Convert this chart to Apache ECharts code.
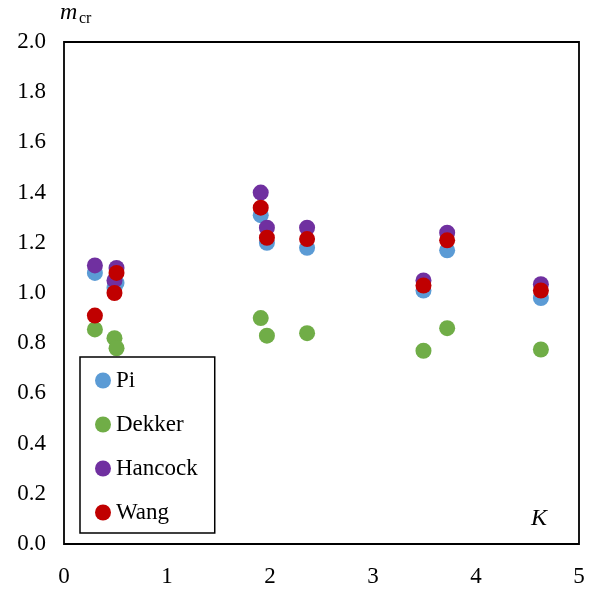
<!DOCTYPE html>
<html>
<head>
<meta charset="utf-8">
<script src="https://cdn.jsdelivr.net/npm/echarts@6/dist/echarts.min.js"></script>
<style>
html,body{margin:0;padding:0;background:#fff;}
#chart{width:596px;height:592px;}
</style>
</head>
<body>
<div id="chart"></div>
<script>
var K = [0.30, 0.49, 0.51, 1.91, 1.97, 2.36, 3.49, 3.72, 4.63];
var seriesNames = ['Pi', 'Dekker', 'Hancock', 'Wang'];
var piVals = [1.08, 1.02, 1.04, 1.31, 1.20, 1.18, 1.01, 1.17, 0.98];
var dekkerVals = [0.855, 0.82, 0.78, 0.90, 0.83, 0.84, 0.77, 0.86, 0.775];
var hancockVals = [1.11, 1.05, 1.10, 1.40, 1.26, 1.26, 1.05, 1.24, 1.035];
var wangVals = [0.91, 1.00, 1.08, 1.34, 1.22, 1.215, 1.03, 1.21, 1.01];
var colors = ['#5B9BD5', '#70AD47', '#7030A0', '#C00000'];

var FONT = '"Liberation Serif","Times New Roman",serif';
function pairs(vals){ return K.map(function(k,i){ return [k, vals[i]]; }); }
var allVals = [piVals, dekkerVals, hancockVals, wangVals];

var chart = echarts.init(document.getElementById('chart'), null, {renderer:'canvas'});
chart.setOption({
  animation: false,
  backgroundColor: '#ffffff',
  color: colors,
  grid: {left: 64, right: 17, top: 42, bottom: 48, show: true, borderColor: '#000', borderWidth: 1.8, backgroundColor: 'transparent'},
  xAxis: {
    type: 'value', min: 0, max: 5, interval: 1,
    axisLine: {show: false}, axisTick: {show: false}, splitLine: {show: false},
    axisLabel: {color: '#000', fontFamily: FONT, fontSize: 23, margin: 21}
  },
  yAxis: {
    type: 'value', min: 0, max: 2, interval: 0.2,
    axisLine: {show: false}, axisTick: {show: false}, splitLine: {show: false},
    axisLabel: {color: '#000', fontFamily: FONT, fontSize: 23, margin: 18,
      formatter: function(v){ return v.toFixed(1); }}
  },
  legend: {
    orient: 'vertical', left: 80, top: 357,
    padding: [12, 17, 9, 15],
    itemGap: 21, itemWidth: 16, itemHeight: 16, itemTextGap: 2,
    borderColor: '#000', borderWidth: 1.5, backgroundColor: '#fff',
    icon: 'circle',
    textStyle: {color: '#000', fontFamily: FONT, fontSize: 23},
    data: seriesNames
  },
  graphic: [
    {type: 'text', left: 60, top: 1, style: {text: 'm', font: 'italic 24px ' + FONT, fill: '#000'}},
    {type: 'text', left: 79, top: 11, style: {text: 'cr', font: '16px ' + FONT, fill: '#000'}},
    {type: 'text', left: 531, top: 507, style: {text: 'K', font: 'italic 24px ' + FONT, fill: '#000'}}
  ],
  series: seriesNames.map(function(n, i){
    return {name: n, type: 'scatter', symbol: 'circle', symbolSize: 16,
      itemStyle: {color: colors[i], opacity: 1}, data: pairs(allVals[i]), z: 2 + i};
  })
});
</script>
</body>
</html>
